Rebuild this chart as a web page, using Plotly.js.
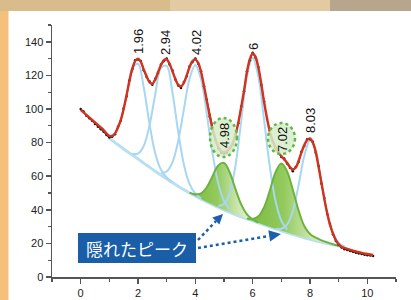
<!DOCTYPE html>
<html><head><meta charset="utf-8">
<script src="https://cdn.plot.ly/plotly-3.0.1.min.js"></script>
<style>html,body{margin:0;padding:0;background:#fff;}#chart{width:411px;height:300px;}</style>
</head><body><div id="chart"></div>
<script>
// ---- data ----
const fitX = [0,0.1,0.2,0.3,0.4,0.5,0.6,0.7,0.8,0.9,1,1.1,1.2,1.3,1.4,1.5,1.6,1.7,1.8,1.9,2,2.1,2.2,2.3,2.4,2.5,2.6,2.7,2.8,2.9,3,3.1,3.2,3.3,3.4,3.5,3.6,3.7,3.8,3.9,4,4.1,4.2,4.3,4.4,4.5,4.6,4.7,4.8,4.9,5,5.1,5.2,5.3,5.4,5.5,5.6,5.7,5.8,5.9,6,6.1,6.2,6.3,6.4,6.5,6.6,6.7,6.8,6.9,7,7.1,7.2,7.3,7.4,7.5,7.6,7.7,7.8,7.9,8,8.1,8.2,8.3,8.4,8.5,8.6,8.7,8.8,8.9,9,9.1,9.2,9.3,9.4,9.5,9.6,9.7,9.8,9.9,10,10.1,10.2];
const fitY = [99.5,98,96.5,95,93.5,92,90.5,89,87.5,85.5,
 84,84,85.5,89,93.5,100,108,116.5,124,128.5,
 130,128,123.5,119.5,116,115,117.5,122,126,129,
 129.5,127,122.5,118,114.5,113.5,115.5,120,125,128.5,
 129.5,127.5,122,114,105,96,88,82,77.5,75,
 74.5,75,76.5,79.5,84.5,92,101,111,122,129.5,
 133,131,124.5,115,104,94.5,86.5,81,77,74,
 72,70,68,65.5,64,65,69,74,78.5,81.5,
 82.5,80,74.5,65.5,56,46.5,38,31,26,22,
 19.5,18,17.3,16.7,16.2,15.7,15.2,14.8,14.4,14,
 13.7,13.4,13.1];
const obsY = [100,98.5,96,94.5,93,91,89.5,88,86.5,84.5,
 83,83.5,85,89.5,93,100.5,107.5,117,123.5,129,
 129.5,128.5,123,119,116.5,114.5,118,121.5,126.5,128.5,
 130,126.5,123,117.5,114,112.5,116,119.5,125.5,128,
 130,127,122.5,113.5,105.5,95.5,88.5,81.5,76.5,74,
 73.5,74,77,79,85,91.5,101.5,110.5,122.5,129,
 133.5,130.5,125,114.5,104.5,94,87,80.5,76.5,74.5,
 71.5,70.5,67.5,65,63,65.5,68.5,74.5,78,82,
 82,80.5,74,66,55.5,47,37.5,31.5,25.5,21.5,
 19,17.5,16.5,16,15.5,15,14.5,14,13.7,13.3,
 13,12.8,12.5];

const baseX = [1,1.2,1.4,1.6,1.8,2,2.2,2.4,2.6,2.8,3,3.2,3.4,3.6,3.8,4,4.2,4.4,4.6,4.8,5,5.2,5.4,5.6,5.8,6,6.2,6.4,6.6,6.8,7,7.2,7.4,7.6,7.8,8,8.2,8.4,8.6,8.8,9,9.2];
const baseY = [82.5,80,77.5,75,72.7,70.3,67.8,65.4,63,60.7,58.5,56.2,54,52,50,48.2,46.4,44.7,43,41.4,39.9,38.5,37.1,35.8,34.6,33.4,32.2,31,29.8,28.6,27.5,26.4,25.4,24.4,23.4,22.5,21.6,20.8,20,19.2,18.5,17.8];

// blue (visible) component peaks
const p1X = [1,1.2,1.4,1.6,1.8,2,2.2,2.4,2.6,2.8,3,3.2];
const p1Y = [83.8,85.4,93.3,108.6,124,126.9,112.8,91.3,73.7,63.9,59.2,56.3];
const p2X = [1.8,2,2.2,2.4,2.6,2.8,3,3.2,3.4,3.6,3.8,4,4.2];
const p2Y = [73.4,73.5,78,90.2,108.5,124.3,125.7,110,86.7,67,55.3,49.6,46.7];
const p3X = [2.8,3,3.2,3.4,3.6,3.8,4,4.2,4.4,4.6,4.8,5,5.2];
const p3Y = [62,62.8,68.2,80.8,99.8,118.2,126.2,117.7,96.9,73.6,55.8,45.3,40.1];
const p5X = [4.8,5,5.2,5.4,5.6,5.8,6,6.2,6.4,6.6,6.8,7,7.2];
const p5Y = [42.2,43.4,50,66.3,92.7,119.5,130.4,119,93.2,65.5,45,33.5,28.2];
const p7X = [6.8,7,7.2,7.4,7.6,7.8,8,8.2,8.4,8.6,8.8,9,9.2];
const p7Y = [28.8,28.7,31.2,39.3,54.4,72,81.3,74.7,56.6,38,26,20.4,18.2];
// green (hidden) component peaks
const p4X = [3.8,4,4.2,4.4,4.6,4.8,5,5.2,5.4,5.6,5.8,6,6.2];
const p4Y = [50.2,49.2,49.8,53.4,60,66.4,67.9,62.2,52.3,43.2,37.3,34.2,32.4];
const p6X = [5.8,6,6.2,6.4,6.6,6.8,7,7.2,7.4,7.6,7.8,8,8.2,8.4,8.6,8.8,9];
const p6Y = [34.8,34.5,36.1,41.6,51.5,62.4,67.5,62.9,51.9,39.7,30.4,25.6,23.4,21.8,20.6,19.5,18.6];

// peak labels
const peakLabels = ['1.96','2.94','4.02','6','8.03'];
const hiddenLabels = ['4.98','7.02'];
const calloutText = '隠れたピーク';

// ---- pixel helpers for decorations ----
const L=52, R=396, T=25, B=277, X0=-1, X1=11, Y0=0, Y1=150;
const DX = p => X0 + (p-L)/(R-L)*(X1-X0);
const DY = p => Y0 + (B-p)/(B-T)*(Y1-Y0);
const PXp = p => (p-L)/(R-L);
const PYp = p => (B-p)/(B-T);

function fillPoly(px, py){
  const lo = px[0], hi = px[px.length-1];
  const bx = [], by = [];
  baseX.forEach((x,i)=>{ if(x>=lo-1e-9 && x<=hi+1e-9){ bx.push(x); by.push(baseY[i]); } });
  return {x: px.concat(bx.reverse()), y: py.concat(by.reverse())};
}
const greenScale = [[0,'#7aba42'],[0.4,'#93ca5c'],[0.7,'#cbe6b0'],[1,'#f5faef']];
const f4 = fillPoly(p4X,p4Y), f6 = fillPoly(p6X,p6Y);

const blue = '#a7d7f1';
const traces = [
  {x: baseX, y: baseY, mode:'lines', line:{color:'#b9dff3', width:3, shape:'spline'}},
  {x: f4.x, y: f4.y, mode:'lines', fill:'toself', fillcolor:'rgba(140,198,84,0.6)',
   fillgradient:{type:'horizontal', colorscale: greenScale}, line:{width:0}},
  {x: f6.x, y: f6.y, mode:'lines', fill:'toself', fillcolor:'rgba(140,198,84,0.6)',
   fillgradient:{type:'horizontal', colorscale: greenScale}, line:{width:0}},
  {x: p1X, y: p1Y, mode:'lines', line:{color:blue, width:2, shape:'spline'}},
  {x: p2X, y: p2Y, mode:'lines', line:{color:blue, width:2, shape:'spline'}},
  {x: p3X, y: p3Y, mode:'lines', line:{color:blue, width:2, shape:'spline'}},
  {x: p5X, y: p5Y, mode:'lines', line:{color:blue, width:2, shape:'spline'}},
  {x: p7X, y: p7Y, mode:'lines', line:{color:blue, width:2, shape:'spline'}},
  {x: p4X, y: p4Y, mode:'lines', line:{color:'#6cb23c', width:2, shape:'spline'}},
  {x: p6X, y: p6Y, mode:'lines', line:{color:'#6cb23c', width:2, shape:'spline'}},
  {x: fitX, y: obsY, mode:'lines+markers', line:{color:'#1a1a1a', width:1.2}, marker:{color:'#1a1a1a', size:2.5}},
  {x: fitX, y: fitY, mode:'lines', line:{color:'#d2321e', width:2.4, shape:'spline'}}
];

const labelPos = [[138,42],[165,43],[196,43],[253,47],[310,121]];
const hiddenPos = [[224,136],[282,140]];
const circles = [[210,118,237,157],[268,123,295,154]];

const annotations = [];
peakLabels.forEach((t,i)=>annotations.push({x:DX(labelPos[i][0]), y:DY(labelPos[i][1]), text:t, textangle:-90,
  showarrow:false, xanchor:'center', yanchor:'middle', font:{size:13, color:'#111'}}));
hiddenLabels.forEach((t,i)=>annotations.push({x:DX(hiddenPos[i][0]), y:DY(hiddenPos[i][1]), text:t, textangle:-90,
  showarrow:false, xanchor:'center', yanchor:'middle', font:{size:13, color:'#111'}}));
annotations.push({x:DX(137), y:DY(248), text:calloutText, showarrow:false, xanchor:'center', yanchor:'middle',
  font:{size:17, color:'#ffffff', family:'Noto Sans CJK JP, sans-serif'}});

const arrowBlue = '#1d5fac';
const tri = pts => 'M ' + pts.map(p=>DX(p[0])+','+DY(p[1])).join(' L ') + ' Z';
const shapes = [
  // page background pieces
  {type:'rect', xref:'paper', yref:'paper', x0:PXp(0), x1:PXp(8.5), y0:PYp(300), y1:PYp(0), fillcolor:'#f5c07c', line:{width:0}, layer:'below'},
  {type:'rect', xref:'paper', yref:'paper', x0:PXp(0), x1:PXp(170), y0:PYp(11), y1:PYp(0), fillcolor:'#d9bc8c', line:{width:0}, layer:'below'},
  {type:'rect', xref:'paper', yref:'paper', x0:PXp(170), x1:PXp(330), y0:PYp(11), y1:PYp(0), fillcolor:'#e3cba1', line:{width:0}, layer:'below'},
  {type:'rect', xref:'paper', yref:'paper', x0:PXp(330), x1:PXp(411), y0:PYp(11), y1:PYp(0), fillcolor:'#b8a58d', line:{width:0}, layer:'below'},
  // hidden-peak circles
  ...circles.map(c=>({type:'circle', xref:'x', yref:'y', x0:DX(c[0]), x1:DX(c[2]), y0:DY(c[3]), y1:DY(c[1]),
    fillcolor:'rgba(214,236,200,0.85)', line:{color:'#62b845', width:2.5, dash:'dot'}})),
  // callout box
  {type:'rect', xref:'x', yref:'y', x0:DX(78), x1:DX(196), y0:DY(263), y1:DY(233), fillcolor:'#1a5ea8', line:{width:0}},
  // dotted arrows
  {type:'line', xref:'x', yref:'y', x0:DX(198), y0:DY(240), x1:DX(216), y1:DY(221), line:{color:arrowBlue, width:2.5, dash:'dot'}},
  {type:'line', xref:'x', yref:'y', x0:DX(198), y0:DY(248), x1:DX(269), y1:DY(236), line:{color:arrowBlue, width:2.5, dash:'dot'}},
  {type:'path', xref:'x', yref:'y', path: tri([[223,214],[212.4,217.6],[219.4,224.6]]), fillcolor:arrowBlue, line:{width:0}},
  {type:'path', xref:'x', yref:'y', path: tri([[281,234],[268.3,230.2],[270.1,241.4]]), fillcolor:arrowBlue, line:{width:0}}
];

const axisCommon = {showline:true, linecolor:'#555', linewidth:1.5, ticks:'outside', ticklen:5, tickwidth:1.5, tickcolor:'#555',
  showgrid:false, zeroline:false, tickfont:{size:11, color:'#222'}};
const layout = {
  width:411, height:300, margin:{l:52, r:15, t:25, b:23},
  paper_bgcolor:'#ffffff', plot_bgcolor:'rgba(0,0,0,0)', showlegend:false, hovermode:false,
  font:{family:'Liberation Sans, Arial, sans-serif'},
  xaxis: Object.assign({}, axisCommon, {range:[X0,X1], tick0:0, dtick:2, minor:{dtick:1, ticks:'outside', ticklen:3, tickcolor:'#555', tickwidth:1.2}}),
  yaxis: Object.assign({}, axisCommon, {range:[Y0,Y1], tick0:0, dtick:20, minor:{dtick:10, ticks:'outside', ticklen:3, tickcolor:'#555', tickwidth:1.2}}),
  shapes: shapes, annotations: annotations
};
Plotly.newPlot('chart', traces, layout, {staticPlot:true, displayModeBar:false});
</script></body></html>
